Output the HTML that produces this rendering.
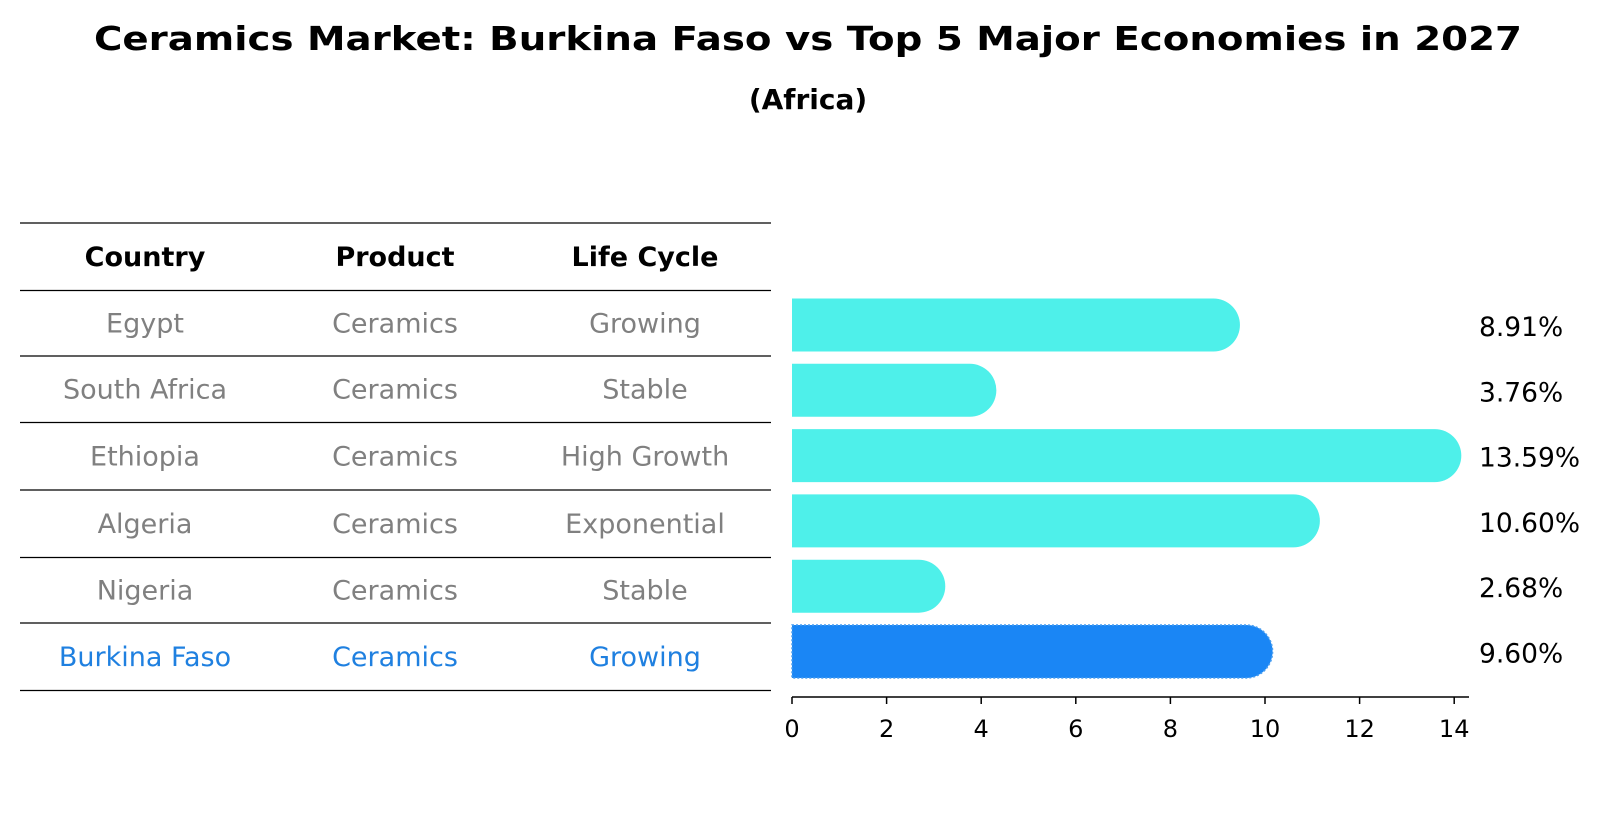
<!DOCTYPE html>
<html><head><meta charset="utf-8"><style>
body{margin:0;background:#fff;font-family:"DejaVu Sans","Liberation Sans",sans-serif;}
#root{position:relative;width:1604px;height:823px;overflow:hidden;}
</style></head><body>
<div id="root">
<svg id="svg" width="1604" height="823">
<text x="808" y="50" text-anchor="middle" font-size="33" font-weight="bold" textLength="1428" lengthAdjust="spacingAndGlyphs">Ceramics Market: Burkina Faso vs Top 5 Major Economies in 2027</text>
<text x="808" y="109" text-anchor="middle" font-size="28" font-weight="bold">(Africa)</text>
<g id="table"></g>
<g id="bars"></g>
</svg>
</div>
<script>
const countries=["Egypt","South Africa","Ethiopia","Algeria","Nigeria","Burkina Faso"];
const products=["Ceramics","Ceramics","Ceramics","Ceramics","Ceramics","Ceramics"];
const lifeCycles=["Growing","Stable","High Growth","Exponential","Stable","Growing"];
const values=[8.91,3.76,13.59,10.60,2.68,9.60];
const tickLabels=[0,2,4,6,8,10,12,14];

const NS="http://www.w3.org/2000/svg";
function mk(tag,attrs,parent){const e=document.createElementNS(NS,tag);for(const k in attrs)e.setAttribute(k,attrs[k]);parent.appendChild(e);return e;}
const table=document.getElementById('table');
const bars=document.getElementById('bars');
const lineYs=[223,290.5,356,422.5,490,557.5,623,690.5];
const colX=[145,395,645];
for(let i=0;i<lineYs.length;i++){
  const l=mk('line',{x1:20,x2:771,y1:lineYs[i],y2:lineYs[i],stroke:'#000','stroke-width':1.2},table);
  
  
}
const headers=["Country","Product","Life Cycle"];
headers.forEach((h,j)=>{
  const t=mk('text',{x:colX[j],y:(lineYs[0]+lineYs[1])/2+9,'text-anchor':'middle','font-size':27,'font-weight':'bold'},table);
  t.textContent=h;
  
  
});
const rowY=i=>(lineYs[i+1]+lineYs[i+2])/2+9;
countries.forEach((c,i)=>{
  const col=i===countries.length-1?'#1f80e0':'#808080';
  [c,products[i],lifeCycles[i]].forEach((v,j)=>{
    const t=mk('text',{x:colX[j],y:rowY(i),'text-anchor':'middle','font-size':27,fill:col},table);
    t.textContent=v;
    
    
  });
});
const x0=792, xs=47.3;
const X=v=>x0+v*xs;
const barCenter=i=>325+i*65.3;
const bh=53, r=bh/2;
values.forEach((v,i)=>{
  const cy=barCenter(i), top=cy-r, xe=X(v);
  const last=i===values.length-1;
  const p=mk('path',{d:`M${x0},${top} L${xe},${top} A${r},${r} 0 0 1 ${xe},${top+bh} L${x0},${top+bh} Z`,fill:last?'#1a86f5':'#4ef0ea'},bars);
  if(last){p.setAttribute('stroke','#4a9ef0');p.setAttribute('stroke-dasharray','2,2');p.setAttribute('stroke-width','1.5');}
  
  
  const t=mk('text',{x:1479,y:cy+11,'font-size':26.5},bars);
  t.textContent=v.toFixed(2)+'%';
  
  
});
const ax=mk('line',{x1:x0,x2:1469,y1:697,y2:697,stroke:'#000','stroke-width':1.5},bars);


tickLabels.forEach(tv=>{
  const tk=mk('line',{x1:X(tv),x2:X(tv),y1:697,y2:704,stroke:'#000','stroke-width':1.5},bars);
  
  
  const t=mk('text',{x:X(tv),y:737,'text-anchor':'middle','font-size':24},bars);
  t.textContent=tv;
  
  
});
</script>
</body></html>
